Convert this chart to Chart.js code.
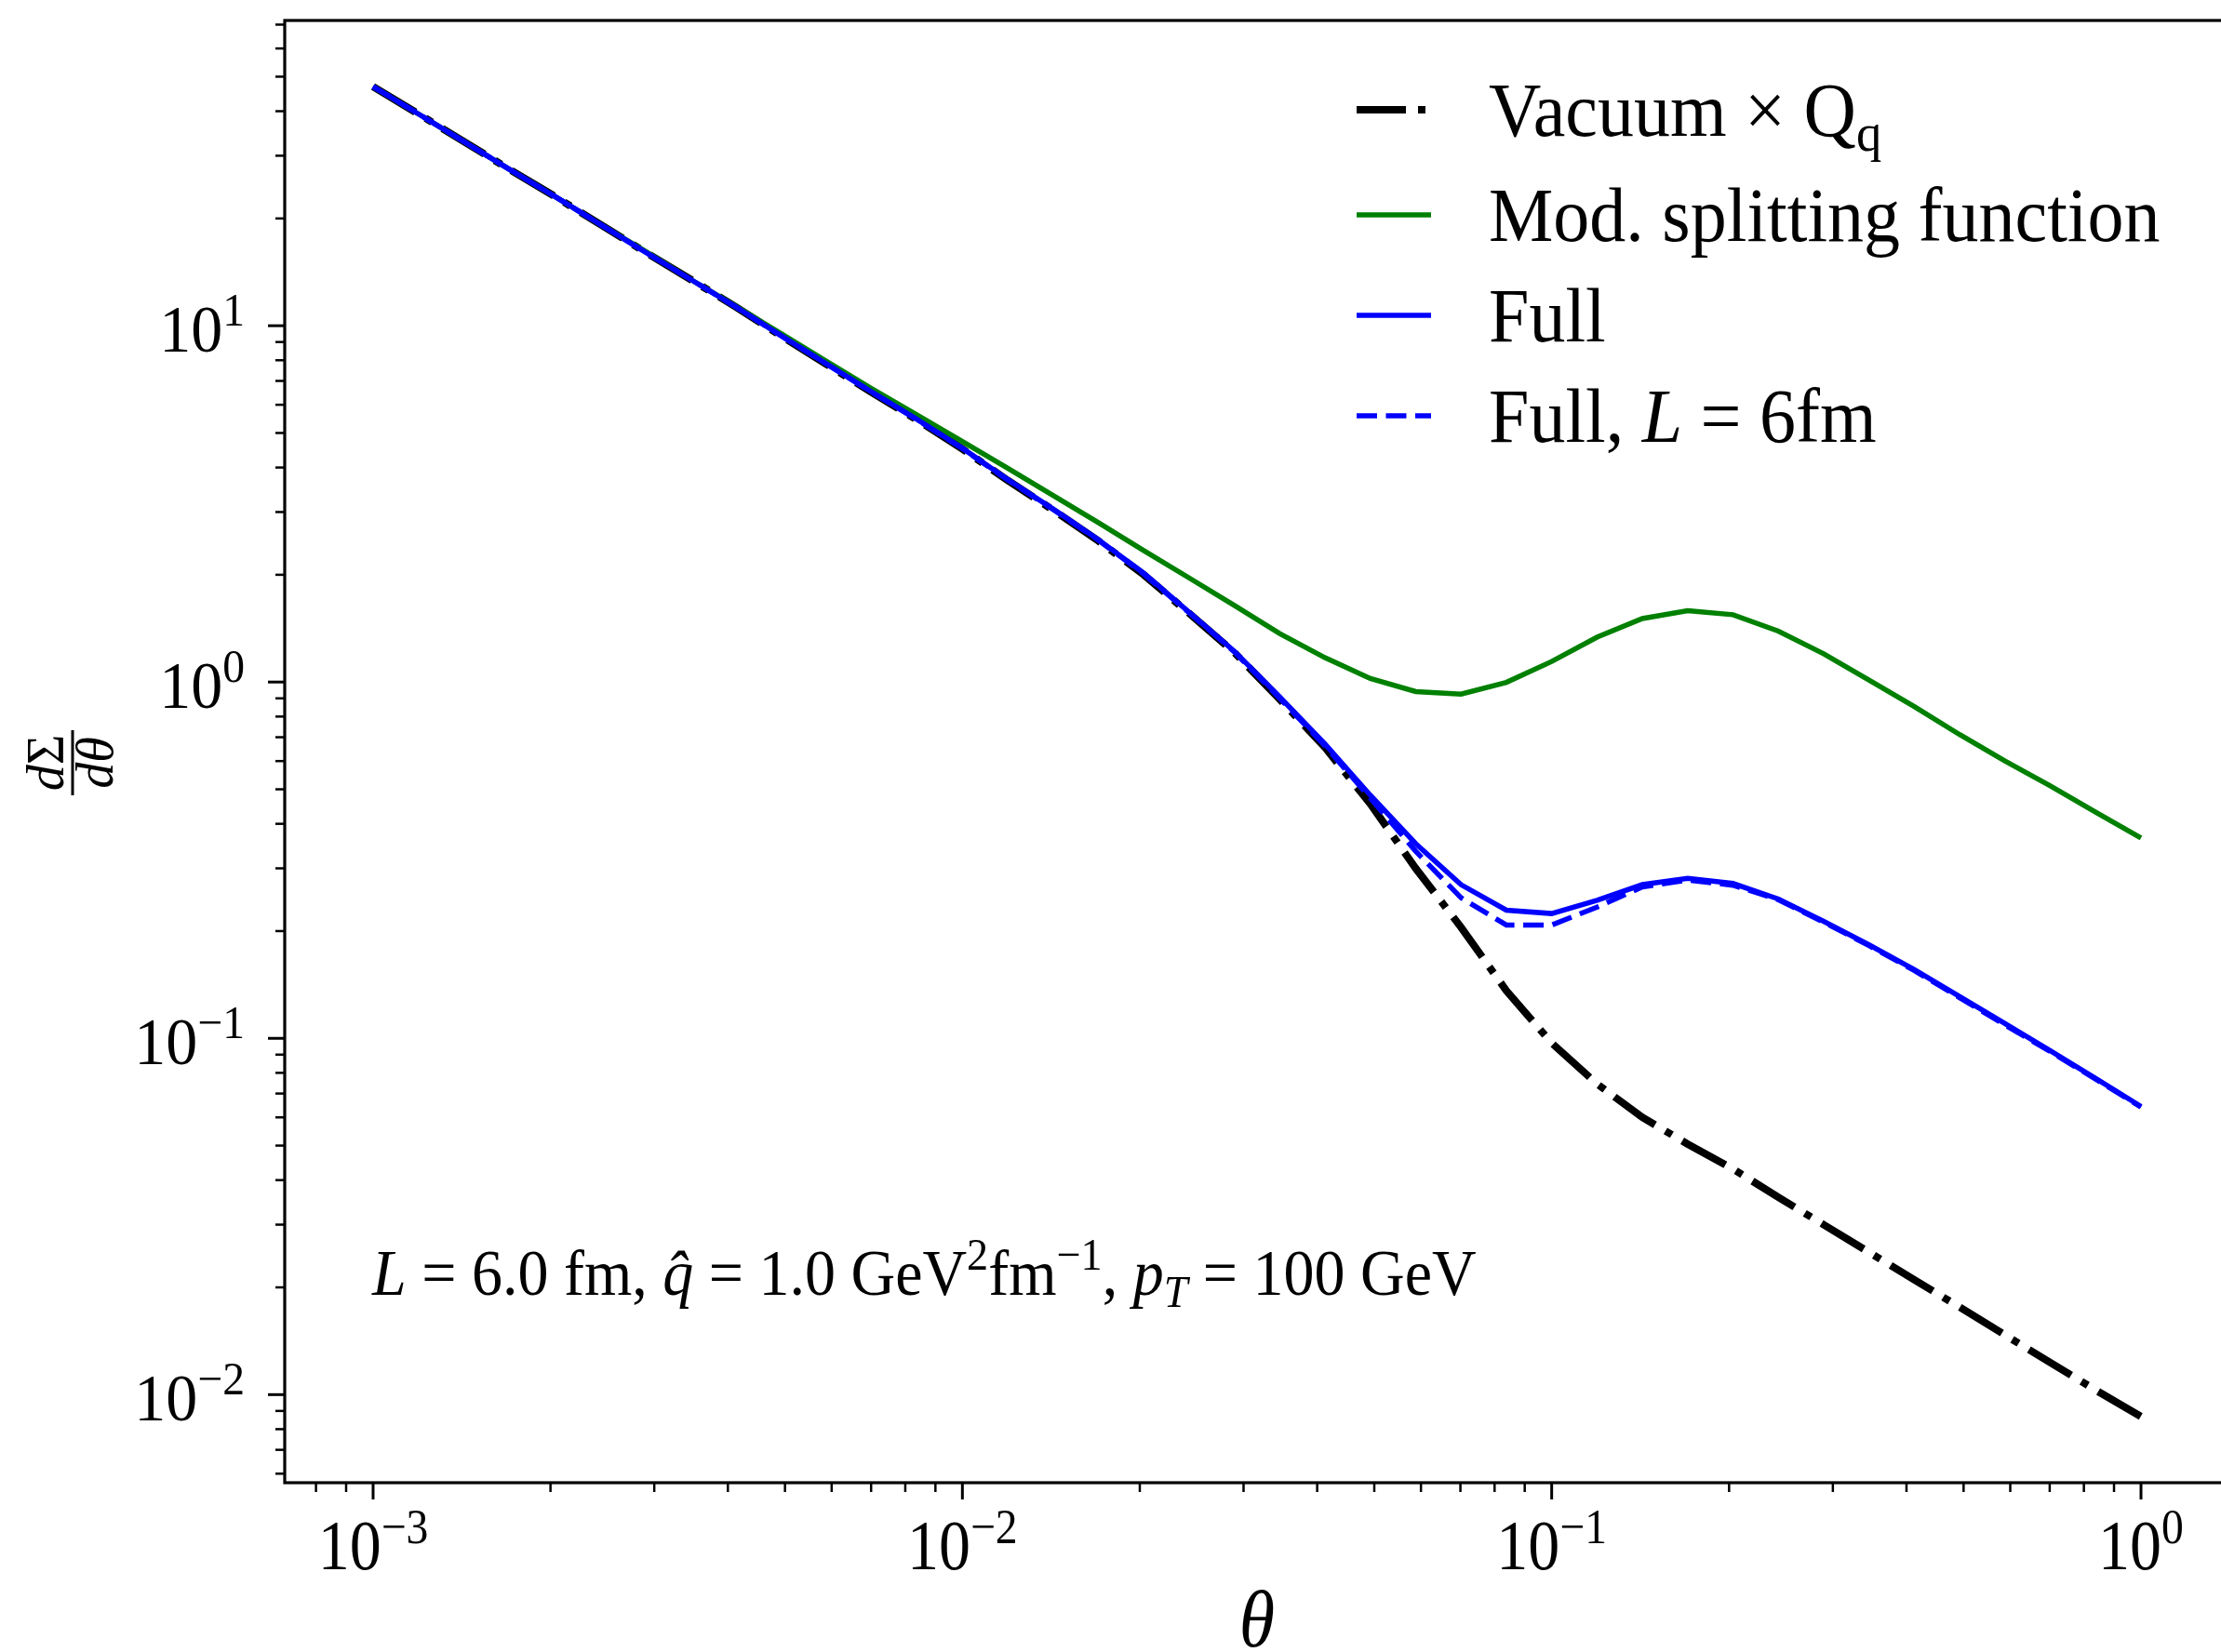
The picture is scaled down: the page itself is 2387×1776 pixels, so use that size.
<!DOCTYPE html>
<html>
<head>
<meta charset="utf-8">
<script src="https://cdn.jsdelivr.net/npm/chart.js@4.4.0/dist/chart.umd.min.js"></script>
<style>
  html, body { margin: 0; padding: 0; background: #fff; overflow: hidden; }
  canvas { display: block; }
</style>
</head>
<body>
<canvas id="chart" width="2400" height="1776"></canvas>
<script>
// theta grid (40 log-spaced points)
const thetas = [0.001, 0.0011938, 0.0014251, 0.0017013, 0.0020309, 0.0024245, 0.0028943, 0.0034551, 0.0041246, 0.0049239,
    0.0058780, 0.0070170, 0.0083768, 0.01, 0.011938, 0.014251, 0.017013, 0.020309, 0.024245, 0.028943,
    0.034551, 0.041246, 0.049239, 0.058780, 0.070170, 0.083768, 0.1, 0.11938, 0.14251, 0.17013,
    0.20309, 0.24245, 0.28943, 0.34551, 0.41246, 0.49239, 0.58780, 0.70170, 0.83768, 1.0];

const vacuum = [46.9, 39.3, 32.9, 27.5, 23.1, 19.3, 16.1, 13.5, 11.3, 9.36,
    7.80, 6.50, 5.44, 4.51, 3.68, 3.04, 2.49, 2.00, 1.56, 1.21,
    0.895, 0.655, 0.455, 0.300, 0.205, 0.136, 0.097, 0.0745, 0.060, 0.0505,
    0.0430, 0.0358, 0.0300, 0.0251, 0.0210, 0.0176, 0.0147, 0.0123, 0.0103, 0.00868];

const modSplitting = [46.9, 39.3, 32.9, 27.5, 23.1, 19.3, 16.2, 13.5, 11.35, 9.50,
    7.95, 6.66, 5.62, 4.73, 3.98, 3.34, 2.80, 2.34, 1.96, 1.64,
    1.368, 1.17, 1.023, 0.94, 0.925, 0.998, 1.142, 1.336, 1.507, 1.585,
    1.545, 1.39, 1.20, 1.012, 0.853, 0.712, 0.600, 0.511, 0.431, 0.365];

const full = [46.9, 39.3, 32.9, 27.5, 23.1, 19.3, 16.1, 13.5, 11.3, 9.38,
    7.82, 6.52, 5.46, 4.53, 3.70, 3.06, 2.51, 2.02, 1.57, 1.22,
    0.908, 0.670, 0.481, 0.352, 0.270, 0.229, 0.224, 0.244, 0.270, 0.281,
    0.272, 0.246, 0.213, 0.183, 0.156, 0.131, 0.110, 0.0923, 0.0772, 0.0644];

const fullL6 = [46.9, 39.3, 32.9, 27.5, 23.1, 19.3, 16.1, 13.5, 11.3, 9.37,
    7.81, 6.51, 5.45, 4.52, 3.69, 3.05, 2.50, 2.01, 1.565, 1.215,
    0.90, 0.662, 0.472, 0.335, 0.248, 0.208, 0.208, 0.2335, 0.266, 0.278,
    0.269, 0.245, 0.212, 0.182, 0.155, 0.130, 0.109, 0.0918, 0.0768, 0.0641];

// axis ticks
const xMajor = [0.001, 0.01, 0.1, 1];
const xMajorExp = ["\u22123", "\u22122", "\u22121", "0"];
const yMajor = [0.01, 0.1, 1, 10];
const yMajorExp = ["\u22122", "\u22121", "0", "1"];
const xRange = [0.000708, 1.4125];
const yRange = [0.00566, 71.9];

// legend entries (rich text parts)
const legendLabels = [
    [{t: "Vacuum \u00d7 Q"}, {t: "q", sub: true}],
    [{t: "Mod. splitting function"}],
    [{t: "Full"}],
    [{t: "Full, "}, {t: "L", it: true}, {t: " = 6fm"}]
];
const infoText = [{t: "L", it: true}, {t: " = 6.0 fm, "}, {t: "q\u0302", it: true}, {t: " = 1.0 GeV"}, {t: "2", sup: true},
    {t: "fm"}, {t: "\u22121", sup: true}, {t: ", "}, {t: "p", it: true}, {t: "T", it: true, sub: true}, {t: " = 100 GeV"}];

const FONT = "'Liberation Serif', 'DejaVu Serif', serif";

// draws a run of text pieces; stretch > 1 makes glyphs taller (closer to the TeX look)
function drawRich(ctx, parts, x, y, size, align, stretch) {
    stretch = stretch || 1;
    let w = 0;
    const info = parts.map(p => {
        const s = (p.sup || p.sub) ? size * 0.7 : size;
        const f = (p.it ? "italic " : "") + s + "px " + FONT;
        ctx.font = f;
        const pw = ctx.measureText(p.t).width;
        w += pw;
        return {f, pw};
    });
    let cx = align === "center" ? x - w / 2 : (align === "right" ? x - w : x);
    ctx.save();
    ctx.translate(0, y);
    ctx.scale(1, stretch);
    ctx.textAlign = "left";
    ctx.textBaseline = "alphabetic";
    parts.forEach((p, i) => {
        ctx.font = info[i].f;
        const dy = p.sup ? -0.41 * size : (p.sub ? 0.2 * size : 0);
        ctx.fillText(p.t, cx, dy / stretch);
        cx += info[i].pw;
    });
    ctx.restore();
}

function minorTicks(min, max) {
    const out = [];
    for (let e = Math.floor(Math.log10(min)); e <= Math.ceil(Math.log10(max)); e++) {
        for (let k = 2; k <= 9; k++) {
            const v = k * Math.pow(10, e);
            if (v >= min && v <= max) out.push(v);
        }
    }
    return out;
}

const decorPlugin = {
    id: "decor",
    beforeDraw(chart) {
        const ctx = chart.ctx;
        ctx.save();
        ctx.fillStyle = "#fff";
        ctx.fillRect(0, 0, chart.width, chart.height);
        ctx.restore();
    },
    afterDatasetsDraw(chart) {
        const ctx = chart.ctx;
        const a = chart.chartArea;
        const xs = chart.scales.x, ys = chart.scales.y;
        ctx.save();
        ctx.strokeStyle = "#000";
        ctx.fillStyle = "#000";

        // spines
        ctx.lineWidth = 3.2;
        ctx.strokeRect(a.left, a.top, a.right - a.left, a.bottom - a.top);

        // x ticks
        ctx.lineWidth = 3;
        xMajor.forEach(v => {
            const px = xs.getPixelForValue(v);
            ctx.beginPath(); ctx.moveTo(px, a.bottom); ctx.lineTo(px, a.bottom + 18); ctx.stroke();
        });
        ctx.lineWidth = 2.5;
        minorTicks(xRange[0], xRange[1]).forEach(v => {
            const px = xs.getPixelForValue(v);
            ctx.beginPath(); ctx.moveTo(px, a.bottom); ctx.lineTo(px, a.bottom + 10); ctx.stroke();
        });
        // y ticks
        ctx.lineWidth = 3;
        yMajor.forEach(v => {
            const py = ys.getPixelForValue(v);
            ctx.beginPath(); ctx.moveTo(a.left, py); ctx.lineTo(a.left - 18, py); ctx.stroke();
        });
        ctx.lineWidth = 2.5;
        minorTicks(yRange[0], yRange[1]).forEach(v => {
            const py = ys.getPixelForValue(v);
            ctx.beginPath(); ctx.moveTo(a.left, py); ctx.lineTo(a.left - 10, py); ctx.stroke();
        });

        // tick labels
        xMajor.forEach((v, i) => {
            const px = xs.getPixelForValue(v);
            drawRich(ctx, [{t: "10"}, {t: xMajorExp[i], sup: true}], px, a.bottom + 93, 68, "center", 1.12);
        });
        yMajor.forEach((v, i) => {
            const py = ys.getPixelForValue(v);
            drawRich(ctx, [{t: "10"}, {t: yMajorExp[i], sup: true}], a.left - 43, py + 28, 68, "right", 1.05);
        });

        // x axis label
        drawRich(ctx, [{t: "\u03b8", it: true}], (a.left + a.right) / 2, 1770, 78, "center", 1.1);

        // y axis label: d Sigma / d theta, rotated
        ctx.save();
        ctx.translate(78, 820);
        ctx.rotate(-Math.PI / 2);
        drawRich(ctx, [{t: "d", it: true}, {t: "\u03a3"}], 0, -10, 56, "center");
        drawRich(ctx, [{t: "d", it: true}, {t: "\u03b8", it: true}], 0, 43, 56, "center");
        ctx.lineWidth = 3;
        ctx.beginPath(); ctx.moveTo(-35, 0); ctx.lineTo(35, 0); ctx.stroke();
        ctx.restore();

        // legend
        const rows = [118, 231, 339, 447];
        chart.data.datasets.forEach(ds => {
            const li = ds.legendIndex;
            const y = rows[li];
            ctx.save();
            ctx.strokeStyle = ds.borderColor;
            ctx.lineWidth = ds.borderWidth;
            ctx.setLineDash(ds.borderDash || []);
            ctx.beginPath(); ctx.moveTo(1458, y); ctx.lineTo(1538, y); ctx.stroke();
            ctx.restore();
            drawRich(ctx, legendLabels[li], 1600, y + 28, 78, "left", 1.05);
        });

        // parameter annotation
        drawRich(ctx, infoText, 400, 1392, 66, "left", 1.05);
        ctx.restore();
    }
};

function pts(ys) {
    return thetas.map((t, i) => ({x: t, y: ys[i]}));
}

new Chart(document.getElementById("chart"), {
    type: "line",
    data: {
        datasets: [
            {label: "Full, L = 6fm", data: pts(fullL6), borderColor: "#0000ff", borderWidth: 5.5,
                borderDash: [22, 9.5], order: 1, legendIndex: 3},
            {label: "Full", data: pts(full), borderColor: "#0000ff", borderWidth: 5.5, order: 2, legendIndex: 2},
            {label: "Mod. splitting function", data: pts(modSplitting), borderColor: "#008000", borderWidth: 5.5,
                order: 3, legendIndex: 1},
            {label: "Vacuum x Qq", data: pts(vacuum), borderColor: "#000000", borderWidth: 8,
                borderDash: [53, 13, 8, 13], order: 4, legendIndex: 0}
        ]
    },
    options: {
        responsive: false,
        animation: false,
        events: [],
        layout: {padding: {left: 306, top: 22, right: 4, bottom: 182}},
        elements: {point: {radius: 0}, line: {tension: 0, fill: false, borderCapStyle: "butt"}},
        scales: {
            x: {type: "logarithmic", min: xRange[0], max: xRange[1], display: false, bounds: "data"},
            y: {type: "logarithmic", min: yRange[0], max: yRange[1], display: false, bounds: "data"}
        },
        plugins: {legend: {display: false}, tooltip: {enabled: false}}
    },
    plugins: [decorPlugin]
});
</script>
</body>
</html>
